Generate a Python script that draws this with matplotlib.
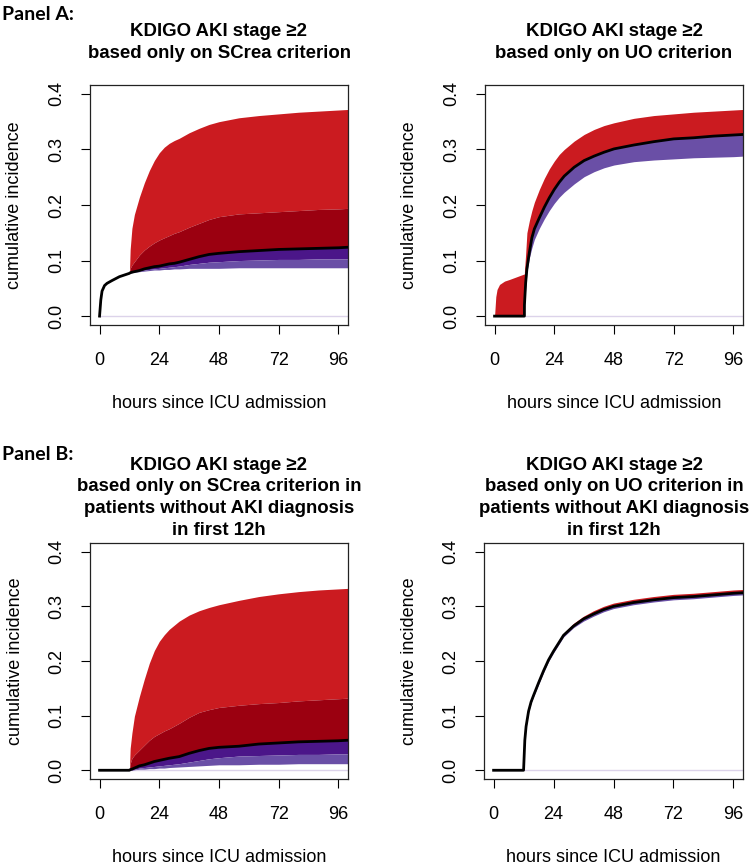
import numpy as np
import matplotlib
matplotlib.use("Agg")
import matplotlib.pyplot as plt

# ---------------- data ----------------
# Panel A, SCrea criterion
tA1 = [0, 0.5, 1, 2, 3, 5, 8, 12, 12.3, 13, 14, 16, 18, 20, 22, 24, 26, 28, 30, 32, 36, 40, 44, 48, 56, 64, 72, 80, 88, 96, 100]
estA1 = [0, 0.029, 0.045, 0.055, 0.059, 0.064, 0.071, 0.077, 0.078, 0.079, 0.080, 0.082, 0.085, 0.087, 0.089, 0.090,
         0.092, 0.094, 0.095, 0.097, 0.102, 0.107, 0.111, 0.113, 0.116, 0.118, 0.120, 0.121, 0.122, 0.123, 0.124]
hiA1_outer = [0, 0.029, 0.045, 0.055, 0.059, 0.064, 0.071, 0.077, 0.120, 0.158, 0.183, 0.214, 0.240, 0.262, 0.280, 0.294,
              0.304, 0.311, 0.316, 0.320, 0.330, 0.338, 0.345, 0.350, 0.357, 0.361, 0.364, 0.367, 0.369, 0.371, 0.372]
hiA1_inner = [0, 0.029, 0.045, 0.055, 0.059, 0.064, 0.071, 0.077, 0.086, 0.092, 0.098, 0.110, 0.119, 0.126, 0.132, 0.137,
              0.141, 0.145, 0.149, 0.152, 0.160, 0.167, 0.174, 0.179, 0.184, 0.186, 0.188, 0.190, 0.192, 0.193, 0.194]
loA1_inner = [0, 0.029, 0.045, 0.055, 0.059, 0.064, 0.071, 0.077, 0.078, 0.079, 0.080, 0.081, 0.083, 0.084, 0.085, 0.086,
              0.087, 0.088, 0.089, 0.090, 0.093, 0.095, 0.097, 0.098, 0.100, 0.101, 0.102, 0.102, 0.103, 0.103, 0.103]
loA1_outer = [0, 0.029, 0.045, 0.055, 0.059, 0.064, 0.071, 0.077, 0.077, 0.078, 0.079, 0.080, 0.081, 0.082, 0.083, 0.083,
              0.084, 0.084, 0.085, 0.085, 0.086, 0.086, 0.086, 0.086, 0.087, 0.087, 0.087, 0.087, 0.087, 0.087, 0.087]

# Panel A, UO criterion
tA2 = [0, 0.5, 1, 2, 4, 6, 9, 12, 12.01, 12.5, 13, 14, 15, 16, 18, 20, 22, 24, 26, 28, 32, 36, 40, 44, 48, 56, 64, 72, 80, 88, 96, 100]
estA2 = [0, 0, 0, 0, 0, 0, 0, 0, 0.02, 0.060, 0.085, 0.115, 0.141, 0.157, 0.177, 0.196, 0.213, 0.228, 0.241, 0.252, 0.268,
         0.280, 0.288, 0.295, 0.301, 0.308, 0.314, 0.319, 0.321, 0.324, 0.326, 0.327]
hiA2 = [0, 0.035, 0.048, 0.057, 0.063, 0.066, 0.071, 0.076, 0.080, 0.112, 0.150, 0.172, 0.190, 0.205, 0.228, 0.248, 0.265,
        0.279, 0.291, 0.300, 0.315, 0.327, 0.336, 0.343, 0.348, 0.356, 0.361, 0.364, 0.367, 0.369, 0.371, 0.372]
loA2 = [0, 0, 0, 0, 0, 0, 0, 0, 0.01, 0.050, 0.078, 0.105, 0.123, 0.138, 0.158, 0.175, 0.190, 0.203, 0.214, 0.223, 0.238,
        0.251, 0.260, 0.267, 0.272, 0.278, 0.281, 0.283, 0.285, 0.286, 0.287, 0.288]

# Panel B, SCrea criterion (no AKI in first 12h)
tB1 = [0, 12, 12.3, 13, 14, 16, 18, 20, 22, 24, 26, 28, 32, 36, 40, 44, 48, 56, 64, 72, 80, 88, 96, 100]
estB1 = [0, 0, 0.001, 0.002, 0.004, 0.008, 0.010, 0.013, 0.016, 0.018, 0.020, 0.022, 0.025, 0.031, 0.036, 0.040, 0.042,
         0.044, 0.048, 0.050, 0.052, 0.053, 0.054, 0.055]
hiB1_outer = [0, 0, 0.040, 0.068, 0.099, 0.135, 0.167, 0.196, 0.219, 0.236, 0.248, 0.258, 0.273, 0.284, 0.292, 0.298, 0.303,
              0.311, 0.318, 0.323, 0.327, 0.330, 0.332, 0.333]
hiB1_inner = [0, 0, 0.012, 0.022, 0.028, 0.037, 0.046, 0.055, 0.062, 0.067, 0.072, 0.076, 0.086, 0.097, 0.106, 0.111, 0.115,
              0.119, 0.122, 0.124, 0.127, 0.129, 0.131, 0.132]
loB1_inner = [0, 0, 0.0005, 0.001, 0.002, 0.004, 0.005, 0.006, 0.007, 0.008, 0.009, 0.010, 0.012, 0.015, 0.018, 0.021, 0.023,
              0.026, 0.027, 0.028, 0.029, 0.029, 0.030, 0.030]
loB1_outer = [0, 0, 0, 0, 0.001, 0.002, 0.002, 0.003, 0.003, 0.004, 0.004, 0.005, 0.006, 0.007, 0.008, 0.009, 0.010,
              0.010, 0.011, 0.011, 0.012, 0.012, 0.012, 0.012]

# Panel B, UO criterion (no AKI in first 12h)
tB2 = [0, 12, 12.5, 13, 14, 15, 16, 18, 20, 22, 24, 28, 32, 36, 40, 44, 48, 56, 64, 72, 80, 88, 96, 100]
estB2 = [0, 0, 0.055, 0.080, 0.108, 0.125, 0.137, 0.160, 0.182, 0.202, 0.218, 0.247, 0.264, 0.277, 0.286, 0.294,
         0.300, 0.307, 0.312, 0.316, 0.318, 0.321, 0.324, 0.325]
hiB2 = [0, 0, 0.056, 0.081, 0.110, 0.127, 0.139, 0.163, 0.185, 0.206, 0.222, 0.251, 0.269, 0.282, 0.292, 0.300,
        0.306, 0.313, 0.318, 0.322, 0.324, 0.327, 0.330, 0.331]
loB2 = [0, 0, 0.054, 0.079, 0.106, 0.123, 0.135, 0.157, 0.179, 0.199, 0.215, 0.244, 0.261, 0.273, 0.282, 0.290,
        0.296, 0.303, 0.308, 0.312, 0.314, 0.317, 0.320, 0.321]

x_ticks = [0, 24, 48, 72, 96]
y_ticks = [0.0, 0.1, 0.2, 0.3, 0.4]
y_ticklabels = ["0.0", "0.1", "0.2", "0.3", "0.4"]

titles = {
    "A1": ["KDIGO AKI stage \u22652", "based only on SCrea criterion"],
    "A2": ["KDIGO AKI stage \u22652", "based only on UO criterion"],
    "B1": ["KDIGO AKI stage \u22652", "based only on SCrea criterion in",
           "patients without AKI diagnosis", "in first 12h"],
    "B2": ["KDIGO AKI stage \u22652", "based only on UO criterion in",
           "patients without AKI diagnosis", "in first 12h"],
}
xlabel = "hours since ICU admission"
ylabel = "cumulative incidence"

# ---------------- styling ----------------
LIGHT_RED = "#CB1B20"
DARK_RED = "#9B0010"
DARK_PURPLE = "#4B1689"
LIGHT_PURPLE = "#6A4FA6"
ZERO_LINE = "#DCD3EA"

plt.rcParams["font.family"] = ["Liberation Sans", "DejaVu Sans"]
FS = 13
FS_TITLE = 13.4

W, H = 749, 864
fig = plt.figure(figsize=(W / 100, H / 100), dpi=100)


def px_axes(x0, x1, y0, y1):
    return fig.add_axes([x0 / W, 1 - y1 / H, (x1 - x0) / W, (y1 - y0) / H])


def draw(ax, t, est, hi_outer, lo_outer, hi_inner=None, lo_inner=None):
    t = np.asarray(t)
    ax.plot([t[0], t[-1]], [0, 0], color=ZERO_LINE, lw=1.0, zorder=1)
    hi_in = est if hi_inner is None else hi_inner
    lo_in = est if lo_inner is None else lo_inner
    ax.fill_between(t, hi_in, hi_outer, color=LIGHT_RED, lw=0, zorder=2)
    ax.fill_between(t, est, hi_in, color=DARK_RED, lw=0, zorder=2)
    ax.fill_between(t, lo_in, est, color=DARK_PURPLE, lw=0, zorder=2)
    ax.fill_between(t, lo_outer, lo_in, color=LIGHT_PURPLE, lw=0, zorder=2)
    ax.plot(t, est, color="black", lw=2.0, zorder=3, solid_joinstyle="round")

    ax.set_xlim(-3.84, 99.84)
    ax.set_ylim(-0.016, 0.416)
    ax.set_xticks(x_ticks)
    ax.set_xticklabels([str(v) for v in x_ticks], fontsize=FS)
    ax.set_yticks(y_ticks)
    ax.set_yticklabels(y_ticklabels, fontsize=FS, rotation=90)
    for lab in ax.get_yticklabels():
        lab.set_ha("center")
        lab.set_va("center")
    for lab in ax.get_xticklabels():
        lab.set_va("center")
    ax.tick_params(axis="y", length=6.5, width=0.8, pad=17.3, colors="black")
    ax.tick_params(axis="x", length=6.5, width=0.8, pad=19.4, colors="black")
    for s in ax.spines.values():
        s.set_linewidth(0.9)
        s.set_color("#222222")
    ax.set_ylabel(ylabel, fontsize=FS, va="center")
    ax.set_xlabel(xlabel, fontsize=FS, va="center")


def add_title(lines, xc, y_first, spacing):
    for i, line in enumerate(lines):
        fig.text(xc / W, 1 - (y_first + i * spacing) / H, line, ha="center", va="center",
                 fontsize=FS_TITLE, fontweight="bold")


# Panel A
axA1 = px_axes(90, 348, 85, 325)
draw(axA1, tA1, estA1, hiA1_outer, loA1_outer, hiA1_inner, loA1_inner)
axA2 = px_axes(485, 743, 85, 325)
draw(axA2, tA2, estA2, hiA2, loA2)
for ax in (axA1, axA2):
    ax.yaxis.set_label_coords(-75 / 258, 0.5)
    ax.xaxis.set_label_coords(0.5, -79 / 240)

# Panel B
axB1 = px_axes(90, 348, 543, 779)
draw(axB1, tB1, estB1, hiB1_outer, loB1_outer, hiB1_inner, loB1_inner)
axB2 = px_axes(484, 743, 543, 779)
draw(axB2, tB2, estB2, hiB2, loB2)
for ax in (axB1, axB2):
    ax.yaxis.set_label_coords(-75 / 259, 0.5)
    ax.xaxis.set_label_coords(0.5, -78 / 236)

add_title(titles["A1"], 219, 32, 21)
add_title(titles["A2"], 614, 32, 21)
add_title(titles["B1"], 219, 465, 21.7)
add_title(titles["B2"], 614, 465, 21.7)

fig.text(2 / W, 1 - 15 / H, "Panel A:", ha="left", va="center", fontsize=14,
         fontweight="bold", family=["Lato", "DejaVu Sans"])
fig.text(2 / W, 1 - 455 / H, "Panel B:", ha="left", va="center", fontsize=14,
         fontweight="bold", family=["Lato", "DejaVu Sans"])

fig.savefig("out.png", dpi=100)
